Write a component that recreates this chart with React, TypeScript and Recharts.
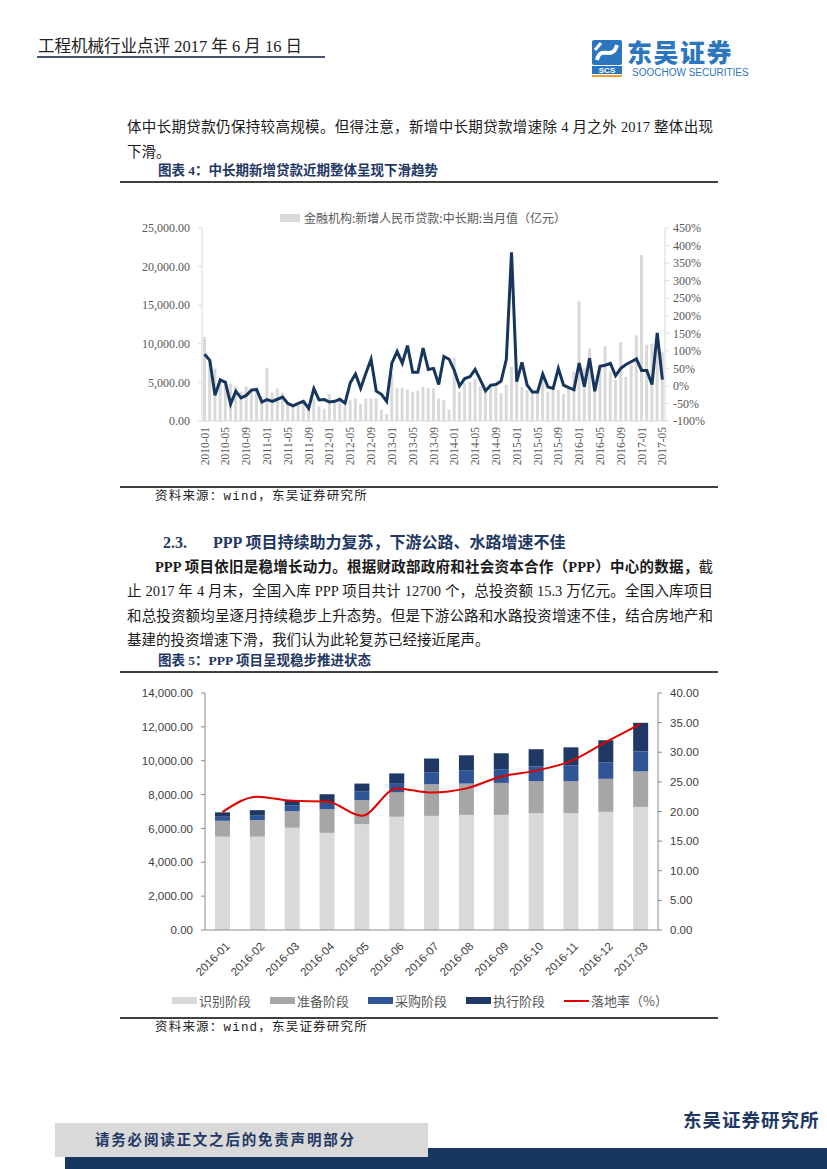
import React from "react";
import { ComposedChart, Bar, Line, XAxis, YAxis, Legend } from "recharts";

// 图表4：中长期新增贷款（月度）
const loanYears = ["2010", "2011", "2012", "2013", "2014", "2015", "2016", "2017"];
const monthNums = ["01", "02", "03", "04", "05", "06", "07", "08", "09", "10", "11", "12"];
const loanMonths = loanYears.flatMap((y) => monthNums.map((m) => `${y}-${m}`)).slice(0, 89);

const loanValue = [
  10900, 7900, 6800, 5300, 4900, 4800, 4500, 3800, 4500, 4200, 4000, 3200,
  6900, 3700, 4200, 3700, 2200, 2100, 2300, 2300, 1500, 2900, 1900, 1600,
  3500, 2500, 2700, 2000, 2700, 2900, 2200, 2900, 2900, 2900, 1500, 900,
  6100, 4300, 4300, 4100, 3800, 3900, 4400, 4300, 4200, 2900, 2700, 1500,
  8200, 3800, 4900, 5100, 5500, 4500, 4300, 4400, 4400, 3600, 4700, 7000,
  5100, 4400, 4000, 3800, 3800, 5700, 3800, 4200, 4000, 3500, 4500, 6400,
  15500, 6900, 9400, 4900, 6900, 9700, 6400, 5300, 10200, 5700, 7300, 11100,
  21500, 9900, 10000, 10800, 8900,
];

const loanGrowth = [
  90, 73, -27, 17, 10, -52, -15, -34, -27, -12, -10, -46,
  -39, -44, -38, -32, -50, -57, -50, -44, -64, -8, -40, -39,
  -46, -44, -38, -49, 9, 34, -7, 36, 76, -15, -24, -44,
  65, 98, 65, 115, 39, 39, 108, 47, 50, 4, 84, 76,
  44, 0, 21, 26, 47, 17, -14, 2, 4, 14, 76, 381,
  12, 67, 2, -17, -17, 34, -3, -7, 50, 2, -5, -11,
  65, -2, 79, -15, 56, 59, 64, 29, 50, 61, 69, 77,
  44, 44, 4, 151, 18,
];

const loanLeftTicks = [0, 5000, 10000, 15000, 20000, 25000];
const loanRightTicks = [-100, -50, 0, 50, 100, 150, 200, 250, 300, 350, 400, 450];

// 图表5：PPP 项目
const pppMonths = ["2016-01", "2016-02", "2016-03", "2016-04", "2016-05", "2016-06", "2016-07", "2016-08", "2016-09", "2016-10", "2016-11", "2016-12", "2017-03"];
const pppIdentify = [5510, 5510, 6040, 5740, 6250, 6690, 6740, 6800, 6800, 6900, 6900, 6980, 7270];
const pppPrepare = [940, 980, 980, 1400, 1420, 1440, 1870, 1850, 1890, 1890, 1890, 1950, 2100];
const pppPurchase = [240, 260, 350, 370, 530, 550, 710, 790, 810, 870, 940, 980, 1180];
const pppExecute = [260, 330, 290, 510, 450, 570, 810, 880, 940, 1020, 1060, 1300, 1690];
const pppRate = [19.9, 22.5, 21.8, 21.7, 19.3, 23.9, 23.2, 23.9, 25.9, 26.9, 28.5, 31.7, 34.8];

const pppLeftTicks = [0, 2000, 4000, 6000, 8000, 10000, 12000, 14000];
const pppRightTicks = [0, 5, 10, 15, 20, 25, 30, 35, 40];

const loanData = loanMonths.map((m, i) => ({ month: m, value: loanValue[i], growth: loanGrowth[i] }));
const pppData = pppMonths.map((m, i) => ({
  month: m,
  identify: pppIdentify[i],
  prepare: pppPrepare[i],
  purchase: pppPurchase[i],
  execute: pppExecute[i],
  rate: pppRate[i],
}));

const CJK = "'Noto Sans CJK SC', sans-serif";
const BODY = "'Liberation Serif', 'Noto Sans CJK SC', serif";
const NAVY = "#1F3864";

const fmtThousands = (v: number) =>
  v.toLocaleString("en-US", { minimumFractionDigits: 2, maximumFractionDigits: 2 });

function LoanTick({ x, y, payload }: any) {
  return (
    <text x={x} y={y} dy={4} textAnchor="end" transform={`rotate(-90, ${x}, ${y})`}
      fontSize={11.5} fontFamily="'Liberation Serif', serif" fill="#595959">
      {payload.value}
    </text>
  );
}

function PppTick({ x, y, payload }: any) {
  const ax = x + 8;
  const ay = y + 9;
  return (
    <text x={ax} y={ay} textAnchor="end" transform={`rotate(-45, ${ax}, ${ay})`}
      fontSize={11.5} fontFamily="'Liberation Sans', sans-serif" fill="#404040">
      {payload.value}
    </text>
  );
}

function LoanLegend() {
  return (
    <div style={{ display: "flex", alignItems: "center", fontFamily: CJK, fontSize: 12, color: "#595959", whiteSpace: "nowrap" }}>
      <span style={{ display: "inline-block", width: 20, height: 8, background: "#D9D9D9", marginRight: 4 }} />
      金融机构:新增人民币贷款:中长期:当月值（亿元）
    </div>
  );
}

const pppLegendItems = [
  { name: "识别阶段", color: "#D9D9D9", line: false },
  { name: "准备阶段", color: "#A6A6A6", line: false },
  { name: "采购阶段", color: "#2F5597", line: false },
  { name: "执行阶段", color: "#1F3864", line: false },
  { name: "落地率（%）", color: "#E00000", line: true },
];

function PppLegend() {
  return (
    <div style={{ display: "flex", justifyContent: "center", alignItems: "center", fontFamily: CJK, fontSize: 13, color: "#595959", whiteSpace: "nowrap" }}>
      {pppLegendItems.map((it, i) => (
        <span key={it.name} style={{ display: "flex", alignItems: "center", marginRight: i < pppLegendItems.length - 1 ? 19 : 0 }}>
          <span style={{ display: "inline-block", width: 25, height: it.line ? 2 : 7, background: it.color, marginRight: 2 }} />
          {it.name}
        </span>
      ))}
    </div>
  );
}

function TextLine({ left, cy, width, size = 14.5, justify = false, bold = false, color = "#1a1a1a", font = BODY, spacing = 0, children }: any) {
  const h = 22;
  return (
    <div style={{
      position: "absolute", left, top: cy - h / 2, height: h, lineHeight: `${h}px`, width,
      fontSize: size, fontFamily: font, fontWeight: bold ? 700 : 400, color, whiteSpace: "nowrap",
      textAlign: justify ? "justify" : "left", textAlignLast: justify ? "justify" : "auto", letterSpacing: spacing,
    }}>
      {children}
    </div>
  );
}

function Rule({ top, left = 120, width = 598, color = "#404040", h = 2 }: any) {
  return <div style={{ position: "absolute", left, top, width, height: h, background: color }} />;
}

function Source({ cy }: { cy: number }) {
  return (
    <TextLine left={155} cy={cy} size={12.5} spacing={1.2} color="#222" font="'Liberation Mono', 'Noto Sans CJK SC', monospace">
      资料来源：wind，东吴证券研究所
    </TextLine>
  );
}

export default function App() {
  return (
    <div style={{ position: "absolute", left: 0, top: 0, width: 827, height: 1169, background: "#fff", overflow: "hidden" }}>
      {/* header */}
      <TextLine left={38} cy={47} size={16.5} color="#222">工程机械行业点评 2017 年 6 月 16 日</TextLine>
      <Rule top={56} left={37} width={288} color="#44546A" />
      <svg style={{ position: "absolute", left: 592, top: 40 }} width={32} height={38}>
        <rect x={0} y={0} width={30} height={25} rx={2} fill="#2B76BC" />
        <path d="M5 20 C 9 4, 20 22, 25 5" stroke="#fff" strokeWidth={4} fill="none" />
        <path d="M3 10 L 9 3" stroke="#fff" strokeWidth={3} />
        <rect x={0} y={26} width={30} height={8} fill="#2B76BC" />
        <text x={15} y={33} textAnchor="middle" fontSize={8} fontWeight={700} fontFamily="'Liberation Sans', sans-serif" fill="#fff">SCS</text>
        <rect x={0} y={35} width={30} height={2} fill="#F0A030" />
      </svg>
      <div style={{ position: "absolute", left: 627, top: 39, height: 25, fontFamily: CJK, fontWeight: 900, fontSize: 25, lineHeight: "25px", color: "#2B76BC", letterSpacing: 1.5 }}>东吴证券</div>
      <div style={{ position: "absolute", left: 632, top: 67, height: 11, fontFamily: "'Liberation Sans', sans-serif", fontSize: 10, lineHeight: "11px", color: "#2B76BC" }}>SOOCHOW SECURITIES</div>

      {/* paragraph 1 */}
      <TextLine left={127} cy={127} width={586} justify>体中长期贷款仍保持较高规模。但得注意，新增中长期贷款增速除 4 月之外 2017 整体出现</TextLine>
      <TextLine left={127} cy={152}>下滑。</TextLine>

      <TextLine left={158} cy={171} size={13.5} bold color={NAVY}>图表 4：中长期新增贷款近期整体呈现下滑趋势</TextLine>
      <Rule top={181} />

      {/* chart 4 */}
      <div style={{ position: "absolute", left: 120, top: 200 }}>
        <ComposedChart width={600} height={280} data={loanData} margin={{ top: 28, right: 0, bottom: 0, left: 0 }}>
          <XAxis dataKey="month" interval={3} tick={<LoanTick />} tickLine={false} tickSize={4} tickMargin={2}
            axisLine={{ stroke: "#D9D9D9" }} height={59} />
          <YAxis yAxisId="left" domain={[0, 25000]} ticks={loanLeftTicks} interval={0} width={82} tickSize={4} tickMargin={8}
            tickFormatter={fmtThousands} axisLine={{ stroke: "#D9D9D9" }} tickLine={{ stroke: "#D9D9D9" }}
            tick={{ fontSize: 12, fontFamily: "'Liberation Serif', serif", fill: "#595959" }} />
          <YAxis yAxisId="right" orientation="right" domain={[-100, 450]} ticks={loanRightTicks} interval={0} width={55} tickSize={4} tickMargin={4}
            tickFormatter={(v) => `${v}%`} axisLine={{ stroke: "#D9D9D9" }} tickLine={{ stroke: "#D9D9D9" }}
            tick={{ fontSize: 12, fontFamily: "'Liberation Serif', serif", fill: "#595959", textAnchor: "start" }} />
          <Legend verticalAlign="middle" align="center" content={<LoanLegend />}
            wrapperStyle={{ top: 9, left: 160, width: 320 }} />
          <Bar yAxisId="left" dataKey="value" fill="#D9D9D9" barSize={3} isAnimationActive={false} />
          <Line yAxisId="right" dataKey="growth" stroke="#17365D" strokeWidth={3} dot={false} isAnimationActive={false} />
        </ComposedChart>
      </div>

      <Rule top={486} />
      <Source cy={497} />

      {/* section 2.3 */}
      <TextLine left={163} cy={543} size={16} bold color={NAVY}>2.3.</TextLine>
      <TextLine left={213} cy={543} size={16} bold color={NAVY}>PPP 项目持续助力复苏，下游公路、水路增速不佳</TextLine>

      <TextLine left={155} cy={567} width={558} justify>
        <b>PPP 项目依旧是稳增长动力。根据财政部政府和社会资本合作（PPP）中心的数据，</b>截
      </TextLine>
      <TextLine left={127} cy={591} width={586} justify>止 2017 年 4 月末，全国入库 PPP 项目共计 12700 个，总投资额 15.3 万亿元。全国入库项目</TextLine>
      <TextLine left={127} cy={616} width={586} justify>和总投资额均呈逐月持续稳步上升态势。但是下游公路和水路投资增速不佳，结合房地产和</TextLine>
      <TextLine left={127} cy={640}>基建的投资增速下滑，我们认为此轮复苏已经接近尾声。</TextLine>

      <TextLine left={158} cy={661} size={13.5} bold color={NAVY}>图表 5：PPP 项目呈现稳步推进状态</TextLine>
      <Rule top={671} />

      {/* chart 5 */}
      <div style={{ position: "absolute", left: 120, top: 680 }}>
        <ComposedChart width={600} height={332} data={pppData} margin={{ top: 13, right: 0, bottom: 0, left: 0 }}>
          <XAxis dataKey="month" interval={0} tick={<PppTick />} tickLine={false} axisLine={{ stroke: "#8C8C8C" }} height={82} />
          <YAxis yAxisId="left" domain={[0, 14000]} ticks={pppLeftTicks} interval={0} width={85} tickSize={4} tickMargin={8}
            tickFormatter={fmtThousands} axisLine={{ stroke: "#8C8C8C" }} tickLine={{ stroke: "#8C8C8C" }}
            tick={{ fontSize: 11.5, fontFamily: "'Liberation Sans', sans-serif", fill: "#404040" }} />
          <YAxis yAxisId="right" orientation="right" domain={[0, 40]} ticks={pppRightTicks} interval={0} width={62} tickSize={4} tickMargin={8}
            tickFormatter={(v) => v.toFixed(2)} axisLine={{ stroke: "#8C8C8C" }} tickLine={{ stroke: "#8C8C8C" }}
            tick={{ fontSize: 11.5, fontFamily: "'Liberation Sans', sans-serif", fill: "#404040", textAnchor: "start" }} />
          <Legend verticalAlign="middle" align="center" content={<PppLegend />}
            wrapperStyle={{ top: 311, left: 0, width: 600 }} />
          <Bar yAxisId="left" dataKey="identify" stackId="s" fill="#D9D9D9" barSize={15} isAnimationActive={false} />
          <Bar yAxisId="left" dataKey="prepare" stackId="s" fill="#A6A6A6" barSize={15} isAnimationActive={false} />
          <Bar yAxisId="left" dataKey="purchase" stackId="s" fill="#2F5597" barSize={15} isAnimationActive={false} />
          <Bar yAxisId="left" dataKey="execute" stackId="s" fill="#1F3864" barSize={15} isAnimationActive={false} />
          <Line yAxisId="right" type="monotone" dataKey="rate" stroke="#E00000" strokeWidth={2} dot={false} isAnimationActive={false} />
        </ComposedChart>
      </div>

      <Rule top={1017} />
      <Source cy={1028} />

      {/* footer */}
      <div style={{ position: "absolute", left: 65, top: 1148, width: 762, height: 21, background: "#17375E" }} />
      <div style={{ position: "absolute", left: 55, top: 1123, width: 373, height: 34, background: "#D9D9D9" }} />
      <TextLine left={95} cy={1140} size={14.5} bold color={NAVY} spacing={1.8}>请务必阅读正文之后的免责声明部分</TextLine>
      <TextLine left={683} cy={1121} size={18.5} bold color={NAVY} spacing={1}>东吴证券研究所</TextLine>
    </div>
  );
}
